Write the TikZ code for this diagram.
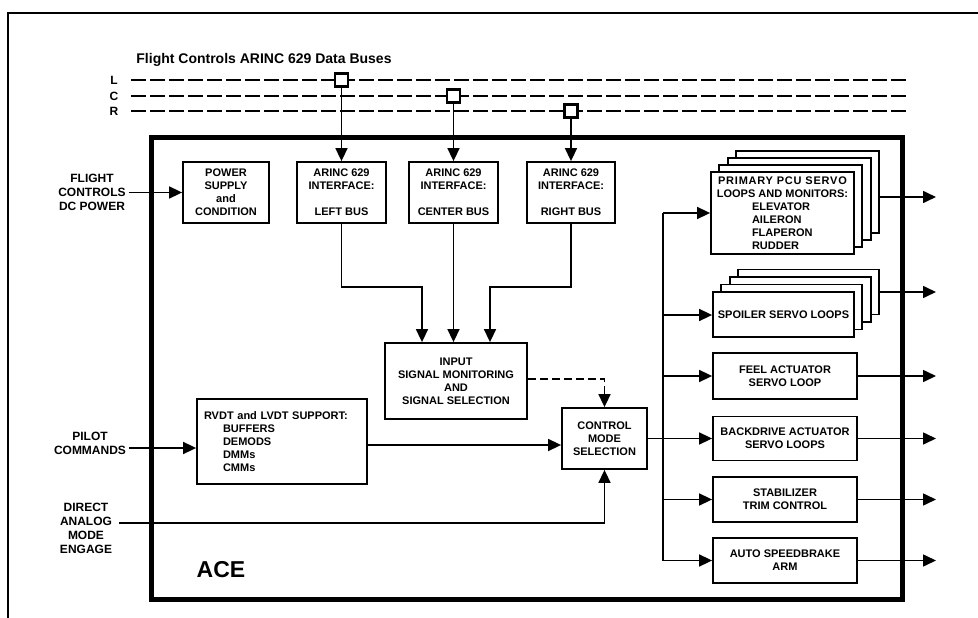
\documentclass[tikz,border=0pt]{standalone}
\usepackage{fontspec}
\setmainfont{Liberation Sans}
\usetikzlibrary{arrows.meta,calc}

\begin{document}
\begin{tikzpicture}[x=1pt,y=-1pt,
  boxtext/.style={font=\bfseries\fontsize{11}{13}\selectfont},
  box/.style={draw, line width=1.8pt, fill=white, align=center, inner sep=2pt, boxtext},
  layer/.style={draw, line width=1.8pt, fill=white, inner sep=0pt},
  conn/.style={line width=1.6pt},
  arr/.style={conn, -{Triangle[length=13pt,width=12pt]}},
  sidelabel/.style={align=center, inner sep=3pt, font=\bfseries\fontsize{12}{14}\selectfont},
  buslabel/.style={font=\bfseries\fontsize{12}{14}\selectfont},
  busline/.style={line width=2.4pt, dash pattern=on 15pt off 4pt},
  tap/.style={draw, line width=2.2pt, fill=white, minimum size=13pt, inner sep=0pt}]

\useasboundingbox (0,0) rectangle (978,618);

% outer frame (top and left edges)
\draw[line width=1.2pt] (8,618) -- (8,13) -- (978,13);

% ARINC 629 data buses
\node[font=\bfseries\fontsize{14}{16}\selectfont] (title) at (264,60) {Flight Controls ARINC 629 Data Buses};
\node[buslabel] (lblL) at (114,80) {L};
\node[buslabel] (lblC) at (114,96) {C};
\node[buslabel] (lblR) at (114,111) {R};
\coordinate (Ls) at (131,80);  \coordinate (Le) at (906,80);
\coordinate (Cs) at (131,96);  \coordinate (Ce) at (906,96);
\coordinate (Rs) at (131,111); \coordinate (Re) at (906,111);
\draw[busline] (Ls) -- (Le);
\draw[busline] (Cs) -- (Ce);
\draw[busline] (Rs) -- (Re);

% ACE enclosure
\node[draw, line width=5pt, minimum width=751pt, minimum height=462pt, inner sep=0pt] (ace) at (526.5,368) {};
\node[font=\bfseries\fontsize{23}{26}\selectfont] (acelbl) at (221,570) {ACE};

% interface blocks
\node[box, minimum width=86pt, minimum height=61pt] (psu) at (226,192.5) {POWER\\SUPPLY\\and\\CONDITION};
\node[box, minimum width=89pt, minimum height=61pt] (arL) at (341.5,192.5) {ARINC 629\\INTERFACE:\\[13pt]LEFT BUS};
\node[box, minimum width=89pt, minimum height=61pt] (arC) at (453.5,192.5) {ARINC 629\\INTERFACE:\\[13pt]CENTER BUS};
\node[box, minimum width=88pt, minimum height=61pt] (arR) at (571,192.5) {ARINC 629\\INTERFACE:\\[13pt]RIGHT BUS};

% bus taps
\node[tap] (tapL) at (341.5,80) {};
\node[tap] (tapC) at (453.5,96) {};
\node[tap] (tapR) at (571,111) {};
\draw[arr] (tapL.south) -- (arL.north);
\draw[arr] (tapC.south) -- (arC.north);
\draw[arr] (tapR.south) -- (arR.north);

% signal processing
\node[box, minimum width=142pt, minimum height=76pt] (inp) at (456,381) {INPUT\\SIGNAL MONITORING\\AND\\SIGNAL SELECTION};
\node[box, minimum width=85pt, minimum height=61pt] (cms) at (604.5,438.5) {CONTROL\\MODE\\SELECTION};
\node[draw, line width=1.8pt, fill=white, boxtext, align=left, inner xsep=7pt, text width=156pt, minimum height=85pt] (rvdt) at (282,441.5)
  {RVDT and LVDT SUPPORT:\\\hspace*{19pt}BUFFERS\\\hspace*{19pt}DEMODS\\\hspace*{19pt}DMMs\\\hspace*{19pt}CMMs};

\coordinate (jL) at (422,287);
\coordinate (jR) at (490,287);
\draw[arr] (arL.south) |- (jL) -- (jL |- inp.north);
\draw[arr] (arC.south) -- (arC.south |- inp.north);
\draw[arr] (arR.south) |- (jR) -- (jR |- inp.north);
\draw[arr, dash pattern=on 8pt off 4pt] ([yshift=2pt]inp.east) -| (cms.north);
\draw[arr] ([yshift=-3.5pt]rvdt.east) coordinate (rv) -- (rv -| cms.west);

% external inputs
\node[sidelabel] (dcp) at (92,192) {FLIGHT\\CONTROLS\\DC POWER};
\node[sidelabel] (pilot) at (90,443.5) {PILOT\\COMMANDS};
\node[sidelabel] (dam) at (86,528) {DIRECT\\ANALOG\\MODE\\ENGAGE};
\draw[arr] (dcp.east |- psu.west) -- (psu.west);
\coordinate (pin) at ([yshift=-6.5pt]rvdt.west);
\draw[arr] (pin -| pilot.east) -- (pin);
\coordinate (damin) at ([yshift=5pt,xshift=4pt]dam.east);
\draw[arr] (damin) -| (cms.south);

% servo loop stacks
\coordinate (pcuC) at (782.5,213);
\foreach \k in {3,2,1}
  \node[layer, minimum width=143pt, minimum height=82pt] (pcu\k) at ($(pcuC)+(\k*8.3,-\k*7)$) {};
\node[box, minimum width=143pt, minimum height=82pt] (pcu) at (pcuC)
  {{\addfontfeature{LetterSpace=7}PRIMARY PCU SERVO}\\LOOPS AND MONITORS:\\\makebox[61pt][l]{ELEVATOR}\\\makebox[61pt][l]{AILERON}\\\makebox[61pt][l]{FLAPERON}\\\makebox[61pt][l]{RUDDER}};

\coordinate (splC) at (783.5,314.5);
\foreach \k in {3,2,1}
  \node[layer, minimum width=141pt, minimum height=45pt] (spl\k) at ($(splC)+(\k*8.3,-\k*7.5)$) {};
\node[box, minimum width=141pt, minimum height=45pt] (spl) at (splC) {SPOILER SERVO LOOPS};

\node[box, minimum width=144pt, minimum height=46pt] (feel) at (785,376) {FEEL ACTUATOR\\SERVO LOOP};
\node[box, minimum width=144pt, minimum height=44pt] (back) at (785,438.5) {BACKDRIVE ACTUATOR\\SERVO LOOPS};
\node[box, minimum width=144pt, minimum height=45pt] (stab) at (785,499.5) {STABILIZER\\TRIM CONTROL};
\node[box, minimum width=144pt, minimum height=45pt] (asb) at (785,560.5) {AUTO SPEEDBRAKE\\ARM};

% distribution bus from control mode selection
\coordinate (busT) at (663,213);
\coordinate (busB) at (663,560.5);
\draw[conn] (busT) -- (busB);
\draw[conn] (cms.east) -- (cms.east -| busT);
\draw[arr] (busT) -- (pcu.west);
\draw[arr] ([yshift=-0.5pt]spl.west -| busT) -- ([yshift=-0.5pt]spl.west);
\draw[arr] (feel.west -| busT) -- (feel.west);
\draw[arr] (back.west -| busT) -- (back.west);
\draw[arr] (stab.west -| busT) -- (stab.west);
\draw[arr] (asb.west -| busT) -- (asb.west);

% outputs
\coordinate (o1) at (936,197);
\coordinate (o2) at (936,292);
\coordinate (o3) at (936,376);
\coordinate (o4) at (936,438.5);
\coordinate (o5) at (936,499.5);
\coordinate (o6) at (936,560.5);
\draw[arr] (pcu3.east |- o1) -- (o1);
\draw[arr] (spl3.east |- o2) -- (o2);
\draw[arr] (feel.east) -- (o3);
\draw[arr] (back.east) -- (o4);
\draw[arr] (stab.east) -- (o5);
\draw[arr] (asb.east) -- (o6);

\end{tikzpicture}
\end{document}
